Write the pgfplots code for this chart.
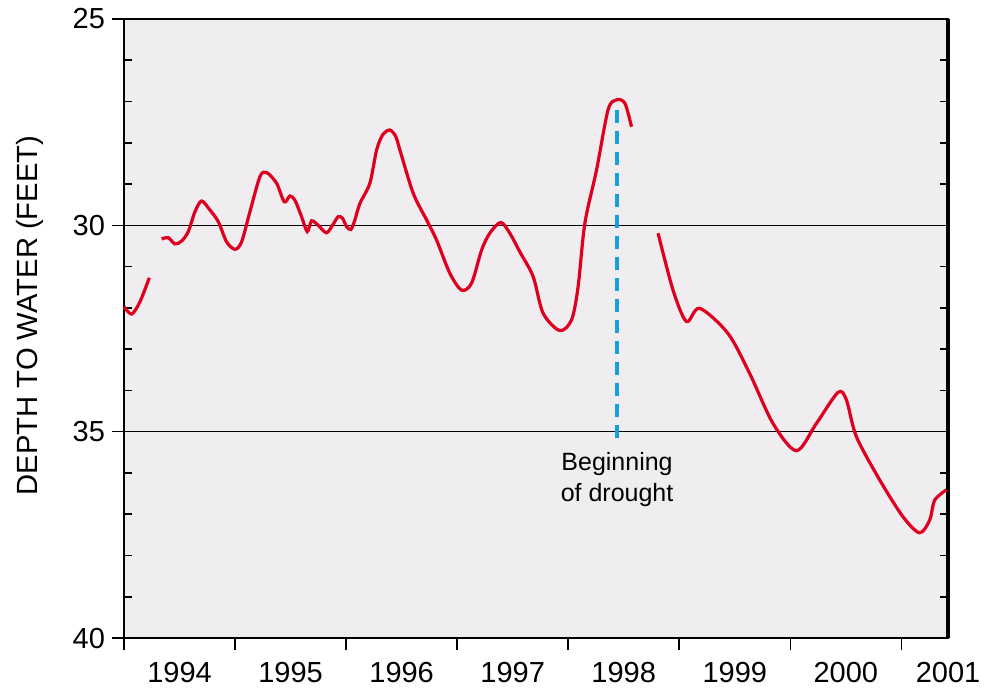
\documentclass[border=0pt]{standalone}
\usepackage{pgfplots}
\pgfplotsset{compat=1.18}
\usepackage{fontspec}
\setmainfont{Liberation Sans}
\definecolor{bgc}{RGB}{239,237,240}
\definecolor{wred}{RGB}{222,0,30}
\definecolor{dcyan}{RGB}{20,160,222}
\begin{document}
\begin{tikzpicture}
\begin{axis}[
  name=ax,
  scale only axis,
  width=412pt, height=309.5pt,
  xmin=0, xmax=7.42,
  ymin=25, ymax=40,
  y dir=reverse,
  axis background/.style={fill=bgc},
  axis line style={black, line width=0.8pt},
  tick align=outside,
  major tick length=6pt,
  tick style={black, line width=0.8pt},
  xtick pos=bottom, ytick pos=left,
  xtick={0,1,2,3,4,5,6,7},
  xticklabels={},
  extra x ticks={0.5,1.5,2.5,3.5,4.5,5.5,6.5,7.42},
  extra x tick labels={1994,1995,1996,1997,1998,1999,2000,2001},
  extra x tick style={major tick length=0pt, xticklabel style={yshift=-8.5pt}},
  ytick={25,30,35,40},
  yticklabels={25,30,35,40},
  ymajorgrids,
  grid style={black, line width=0.7pt},
  /pgf/number format/assume math mode=true,
  ticklabel style={font=\fontsize{14.5}{16}\selectfont},
  yticklabel style={xshift=0pt},
  clip=false,
]
\pgfplotsinvokeforeach{26,27,28,29,31,32,33,34,36,37,38,39}{
  \draw[black, line width=0.8pt] (axis cs:0,#1) -- (axis cs:0.072,#1);
  \draw[black, line width=0.8pt] (axis cs:7.42,#1) -- (axis cs:7.348,#1);
}
\draw[black, line width=1.6pt] (axis cs:7.42,25) -- (axis cs:7.42,40);

\addplot[wred, line width=1.6pt, smooth, tension=0.5] coordinates {
(0.000,31.97) (0.069,32.15) (0.144,31.85) (0.228,31.27)
};
\addplot[wred, line width=1.6pt, smooth, tension=0.5] coordinates {
(0.339,30.33) (0.399,30.30) (0.459,30.45) (0.519,30.38)
(0.579,30.15) (0.639,29.67) (0.699,29.41) (0.774,29.63)
(0.849,29.91) (0.924,30.40) (0.999,30.58) (1.059,30.40)
(1.134,29.67) (1.224,28.82) (1.284,28.72) (1.374,28.98)
(1.443,29.43) (1.494,29.29) (1.539,29.39) (1.599,29.79)
(1.650,30.15) (1.689,29.89) (1.749,30.00) (1.824,30.18)
(1.884,29.97) (1.929,29.79) (1.968,29.83) (2.004,30.03)
(2.043,30.10) (2.079,29.87) (2.124,29.47) (2.214,28.98)
(2.275,28.17) (2.331,27.80) (2.394,27.69) (2.448,27.85)
(2.484,28.17) (2.604,29.22) (2.725,29.87) (2.815,30.36)
(2.934,31.16) (3.040,31.57) (3.130,31.40) (3.220,30.60)
(3.294,30.19) (3.393,29.93) (3.474,30.19) (3.564,30.64)
(3.684,31.24) (3.774,32.13) (3.924,32.55) (4.030,32.29)
(4.089,31.49) (4.150,29.95) (4.255,28.66) (4.359,27.20)
(4.435,26.96) (4.510,27.04) (4.570,27.61)
};
\addplot[wred, line width=1.6pt, smooth, tension=0.5] coordinates {
(4.809,30.19) (4.944,31.57) (5.065,32.33) (5.184,32.01)
(5.439,32.62) (5.634,33.59) (5.844,34.80) (6.055,35.46)
(6.235,34.80) (6.429,34.05) (6.505,34.23) (6.595,35.12)
(6.805,36.17) (7.014,37.06) (7.164,37.45) (7.255,37.14)
(7.300,36.66) (7.405,36.41)
};
\addplot[dcyan, line width=2.4pt, dash pattern=on 6.5pt off 4pt] coordinates {
(4.44,27.2) (4.44,35.3)
};
\node[anchor=north, align=center, font=\fontsize{12.5}{15.5}\selectfont, inner sep=0pt]
  at (axis cs:4.44,35.5) {Beginning\\of drought};
\end{axis}
\node[rotate=90, font=\fontsize{14.6}{16}\selectfont] at ([xshift=-47pt,yshift=6.5pt]ax.west) {DEPTH TO WATER (FEET)};
\pgfresetboundingbox
\path ([xshift=-62pt,yshift=-27pt]ax.south west) rectangle ([xshift=22pt,yshift=9.5pt]ax.north east);
\end{tikzpicture}
\end{document}
